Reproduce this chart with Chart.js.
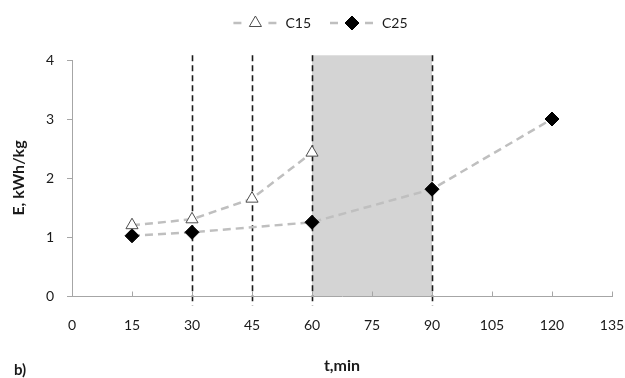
<!DOCTYPE html>
<html>
<head>
<meta charset="utf-8">
<script src="https://cdn.jsdelivr.net/npm/chart.js@4/dist/chart.umd.min.js"></script>
<style>
  html, body { margin: 0; padding: 0; background: #fff; }
  #wrap { position: relative; width: 625px; height: 378px; }
  #label-b { position: absolute; left: 14px; top: 362px; font: bold 15px Lato, "Open Sans", sans-serif; color: #1a1a1a; line-height: 15px; }
</style>
</head>
<body>
<div id="wrap">
  <canvas id="c" width="625" height="378"></canvas>
  <div id="label-b">b)</div>
</div>
<script>
// ---- data ----
const seriesNames = ["C15", "C25"];
const timesC15 = [15, 30, 45, 60];
const valuesC15 = [1.20, 1.30, 1.65, 2.43];
const timesC25 = [15, 30, 60, 90, 120];
const valuesC25 = [1.02, 1.08, 1.25, 1.81, 3.00];
const xTickValues = [0, 15, 30, 45, 60, 75, 90, 105, 120, 135];
const yTickValues = [0, 1, 2, 3, 4];
const markerTimes = [30, 45, 60, 90];
const shadedRange = [60, 90];
const xTitle = "t,min";
const yTitle = "E, kWh/kg";

const FONT = "Lato, 'Open Sans', sans-serif";
const AXIS_COLOR = "#a6a6a6";

function toPoints(xs, ys) { return xs.map((x, i) => ({ x: x, y: ys[i] })); }

const overlayPlugin = {
  id: "overlay",
  beforeDraw(chart) {
    const ctx = chart.ctx;
    const xs = chart.scales.x, ys = chart.scales.y;
    const top = ys.getPixelForValue(4.08);
    const bottom = ys.getPixelForValue(0);
    ctx.save();
    ctx.fillStyle = "#d4d4d4";
    const x1 = xs.getPixelForValue(shadedRange[0]);
    const x2 = xs.getPixelForValue(shadedRange[1]);
    ctx.fillRect(x1, top, x2 - x1, bottom - top);
    ctx.strokeStyle = "#1a1a1a";
    ctx.lineWidth = 1.6;
    ctx.setLineDash([6, 4]);
    const lineBottom = ys.getPixelForValue(-0.16);
    markerTimes.forEach(t => {
      const px = Math.round(xs.getPixelForValue(t)) + 0.5;
      ctx.beginPath();
      ctx.moveTo(px, top);
      ctx.lineTo(px, lineBottom);
      ctx.stroke();
    });
    ctx.restore();
  },
  afterDraw(chart) {
    const ctx = chart.ctx;
    const xs = chart.scales.x, ys = chart.scales.y;
    ctx.save();
    ctx.strokeStyle = AXIS_COLOR;
    ctx.lineWidth = 1;
    const y0 = Math.round(ys.getPixelForValue(0)) + 0.5;
    xTickValues.forEach(v => {
      const px = Math.round(xs.getPixelForValue(v)) + 0.5;
      ctx.beginPath();
      ctx.moveTo(px, y0);
      ctx.lineTo(px, y0 - 5);
      ctx.stroke();
    });
    // legend
    ctx.font = "14px " + FONT;
    ctx.textBaseline = "middle";
    const ly = 23;
    const items = chart.data.datasets.map(d => ({ ds: d, w: 52 + ctx.measureText(d.label).width }));
    const gap = 19;
    const total = items.reduce((s, it) => s + it.w, 0) + gap * (items.length - 1);
    let x = chart.width / 2 + 8 - total / 2;
    items.forEach(it => {
      const d = it.ds;
      ctx.strokeStyle = "#bfbfbf";
      ctx.lineWidth = 2.5;
      ctx.setLineDash([]);
      ctx.beginPath(); ctx.moveTo(x, ly); ctx.lineTo(x + 8, ly); ctx.stroke();
      ctx.beginPath(); ctx.moveTo(x + 35, ly); ctx.lineTo(x + 43, ly); ctx.stroke();
      ctx.fillStyle = d.pointBackgroundColor;
      ctx.strokeStyle = d.pointBorderColor;
      ctx.lineWidth = d.pointBorderWidth;
      Chart.helpers.drawPoint(ctx, { pointStyle: d.pointStyle, radius: d.pointRadius, rotation: 0, borderWidth: d.pointBorderWidth }, x + 22, ly);
      ctx.fillStyle = "#1a1a1a";
      ctx.textAlign = "left";
      ctx.fillText(d.label, x + 52, ly);
      x += it.w + gap;
    });
    ctx.restore();
  }
};

new Chart(document.getElementById("c"), {
  type: "scatter",
  data: {
    datasets: [
      {
        label: seriesNames[0],
        data: toPoints(timesC15, valuesC15),
        showLine: true,
        borderColor: "#bfbfbf",
        borderWidth: 2.5,
        borderDash: [8, 5],
        pointStyle: "triangle",
        pointRadius: 7,
        pointBackgroundColor: "#ffffff",
        pointBorderColor: "#4d4d4d",
        pointBorderWidth: 1
      },
      {
        label: seriesNames[1],
        data: toPoints(timesC25, valuesC25),
        showLine: true,
        borderColor: "#bfbfbf",
        borderWidth: 2.5,
        borderDash: [8, 5],
        pointStyle: "rectRot",
        pointRadius: 7,
        pointBackgroundColor: "#000000",
        pointBorderColor: "#000000",
        pointBorderWidth: 1
      }
    ]
  },
  options: {
    responsive: false,
    animation: false,
    layout: { padding: { left: 0, top: 60, right: 13, bottom: 0 } },
    plugins: { legend: { display: false }, tooltip: { enabled: false } },
    scales: {
      x: {
        type: "linear",
        min: 0, max: 135,
        afterBuildTicks(scale) { scale.ticks = xTickValues.map(v => ({ value: v })); },
        afterFit(scale) { scale.height = 82; scale.paddingLeft = 0; scale.paddingRight = 0; },
        grid: { display: false, drawTicks: false },
        border: { display: true, color: AXIS_COLOR, width: 1 },
        ticks: { color: "#1a1a1a", font: { family: FONT, size: 14 }, padding: 21, maxRotation: 0 },
        title: { display: true, text: xTitle, color: "#1a1a1a", font: { family: FONT, size: 16, weight: "bold" }, padding: { top: 0, bottom: 3 } }
      },
      y: {
        type: "linear",
        min: 0, max: 4,
        afterBuildTicks(scale) { scale.ticks = yTickValues.map(v => ({ value: v })); },
        afterFit(scale) { scale.width = 72; scale.paddingTop = 0; scale.paddingBottom = 0; },
        grid: { display: true, drawOnChartArea: false, drawTicks: true, tickLength: 5, color: AXIS_COLOR },
        border: { display: true, color: AXIS_COLOR, width: 1 },
        ticks: { color: "#1a1a1a", font: { family: FONT, size: 14 }, padding: 13 },
        title: { display: true, text: yTitle, color: "#1a1a1a", font: { family: FONT, size: 16, weight: "bold" }, padding: { top: 9, bottom: 2 } }
      }
    }
  },
  plugins: [overlayPlugin]
});
</script>
</body>
</html>
